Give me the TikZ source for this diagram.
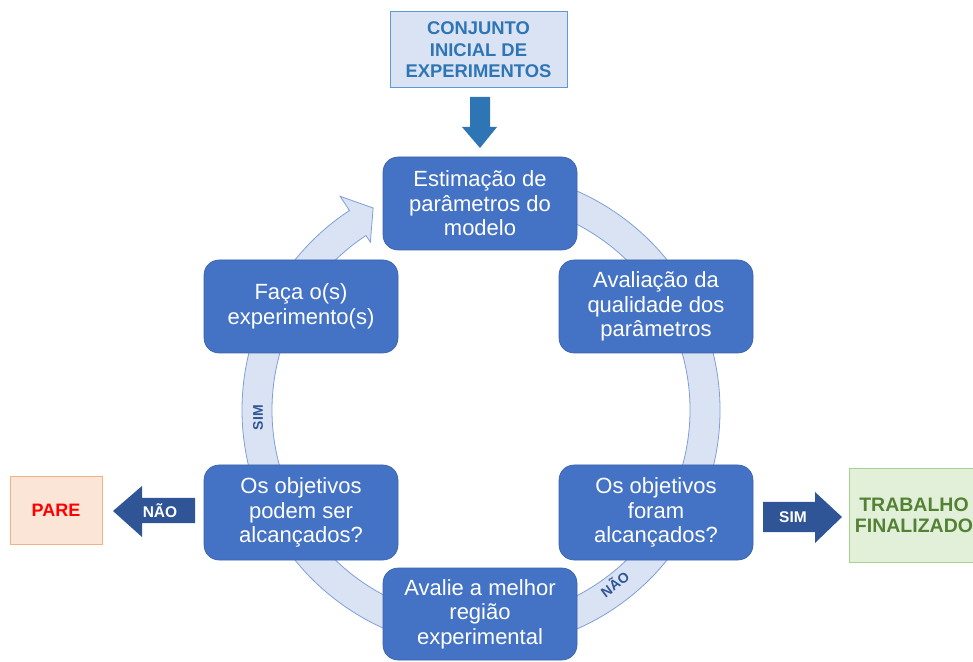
\documentclass[tikz,border=0pt]{standalone}
\usepackage{fontspec}
\setmainfont{Liberation Sans}
\usetikzlibrary{calc}
\definecolor{boxblue}{HTML}{4472C4}
\definecolor{ringfill}{HTML}{DAE3F3}
\definecolor{ringdraw}{HTML}{7F9FD8}
\definecolor{darkblue}{HTML}{2F5597}
\definecolor{topdraw}{HTML}{5B9BD5}
\definecolor{toptext}{HTML}{2E75B6}
\definecolor{parefill}{HTML}{FBE5D6}
\definecolor{paredraw}{HTML}{F4B183}
\definecolor{greenfill}{HTML}{E2F0D9}
\definecolor{greendraw}{HTML}{A9D18E}
\definecolor{greentext}{HTML}{548235}
\begin{document}
\begin{tikzpicture}[x=1pt,y=1pt,
  stepbox/.style={fill=boxblue,draw=boxblue!85!black,line width=0.6pt,rounded corners=15pt,
    minimum width=194pt,minimum height=93pt,text=white,align=center,inner sep=0pt,
    font=\fontsize{22}{24.5}\selectfont},
  ringlabel/.style={text=darkblue,font=\bfseries\fontsize{14}{16}\selectfont,inner sep=0pt},
  arrowlabel/.style={text=white,font=\bfseries\fontsize{15.5}{17}\selectfont,inner sep=0pt},
  blockarrow/.style={fill=darkblue,draw=none}
]
\useasboundingbox (0,0) rectangle (973,661);
% ring
\coordinate (c) at (481,251);
\filldraw[fill=ringfill,draw=ringdraw,line width=0.8pt]
  ($(c)+(95:239)$) arc[start angle=95,end angle=-236.6,radius=239]
  -- ($(c)+(-236.6:256)$) -- ($(c)+(-241.9:229)$) -- ($(c)+(-236.6:201)$)
  -- ($(c)+(-236.6:209)$) arc[start angle=-236.6,end angle=95,radius=209] -- cycle;
\node[ringlabel,rotate=90] (simlab) at ($(c)+(182:223)$) {SIM};
\node[ringlabel,rotate=37] (naolab) at ($(c)+(-52.5:219)$) {NÃO};
% boxes
\node[stepbox] (est) at (480,457.5) {Estimação de\\parâmetros do\\modelo};
\node[stepbox] (aval) at (656,354.5) {Avaliação da\\qualidade dos\\parâmetros};
\node[stepbox] (faca) at (301,354.5) {Faça o(s)\\experimento(s)};
\node[stepbox,minimum height=95pt] (podem) at (301,148.5) {Os objetivos\\podem ser\\alcançados?};
\node[stepbox,minimum height=95pt] (foram) at (656,148.5) {Os objetivos\\foram\\alcançados?};
\node[stepbox,minimum height=92pt] (melhor) at (480,47) {Avalie a melhor\\região\\experimental};
% top box
\node[fill=ringfill,draw=topdraw,line width=1pt,minimum width=177pt,minimum height=76pt,
  align=center,text=toptext,font=\bfseries\fontsize{18.4}{21.5}\selectfont,inner sep=0pt]
  (conj) at (478.5,611) {CONJUNTO\\INICIAL DE\\EXPERIMENTOS};
\fill[toptext] (470,564) -- (490,564) -- (490,534) -- (497,534) -- (480,513) -- (462,534) -- (470,534) -- cycle;
% PARE
\node[fill=parefill,draw=paredraw,line width=1pt,minimum width=92pt,minimum height=67pt,
  text=red,font=\bfseries\fontsize{18}{20}\selectfont,inner sep=0pt] (pare) at (56,150.5) {PARE};
\fill[blockarrow] (113,150) -- (142,175) -- (142,163) -- (195,163) -- (195,138) -- (142,138) -- (142,124) -- cycle;
\node[arrowlabel] (nao) at (160,150) {NÃO};
% TRABALHO
\node[fill=greenfill,draw=greendraw,line width=1pt,minimum width=140pt,minimum height=93pt,
  text=greentext,inner sep=0pt] (trab) at (919,145.5) {};
\node[align=center,text=greentext,font=\bfseries\fontsize{19.5}{21.5}\selectfont,inner sep=0pt]
  (trabtxt) at (914,145.5) {TRABALHO\\FINALIZADO};
\fill[blockarrow] (763,159) -- (815,159) -- (815,169) -- (842,144) -- (815,118) -- (815,129) -- (763,129) -- cycle;
\node[arrowlabel] (sim) at (793,144) {SIM};
\end{tikzpicture}
\end{document}
